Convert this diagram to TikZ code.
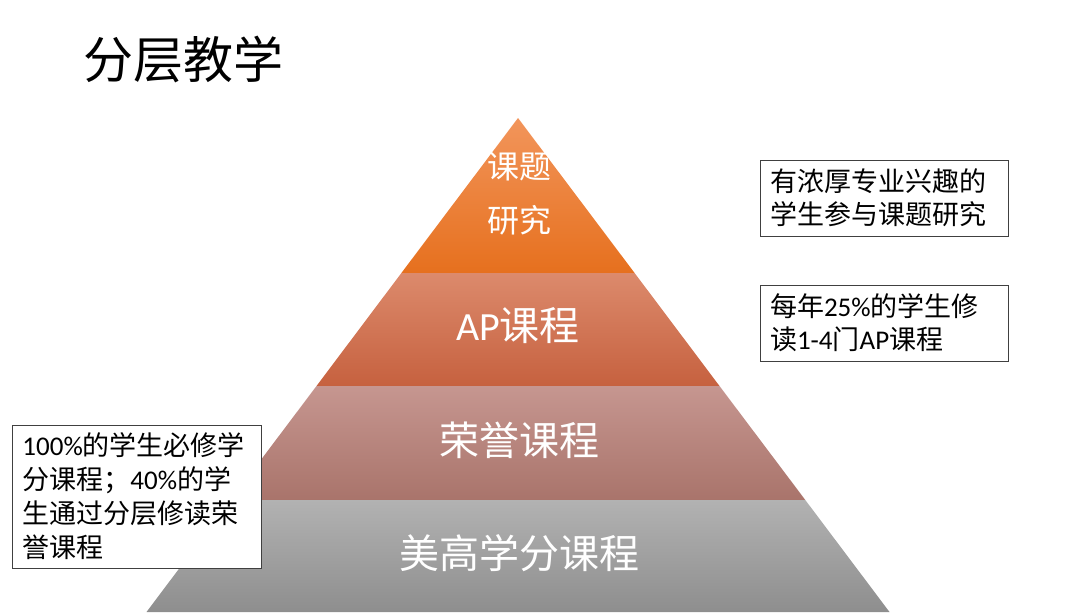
\documentclass[tikz,border=0pt]{standalone}
\usepackage{fontspec}
\setmainfont{Noto Sans CJK SC}
\newfontfamily\lat{Carlito}
\definecolor{oTop}{HTML}{F2955B}
\definecolor{oBot}{HTML}{E6701E}
\definecolor{aTop}{HTML}{DC8A6C}
\definecolor{aBot}{HTML}{C6613F}
\definecolor{hTop}{HTML}{C69690}
\definecolor{hBot}{HTML}{A9746B}
\definecolor{gTop}{HTML}{B2B2B2}
\definecolor{gBot}{HTML}{8E8E8E}
\begin{document}
\begin{tikzpicture}[x=1pt,y=-1pt,
  tierlabel/.style={text=white,inner sep=0pt,align=center},
  infobox/.style={draw=black!75,line width=0.8pt,fill=white,align=left,inner xsep=0pt,inner ysep=0pt,
    text width=228pt,font=\fontsize{27}{33}\selectfont},
]
\useasboundingbox (0,0) rectangle (1080,616);
% pyramid tiers
\shade[top color=oTop,bottom color=oBot] (518,118) -- (634.6,273) -- (401.4,273) -- cycle;
\shade[top color=aTop,bottom color=aBot] (401.4,273) -- (634.6,273) -- (719.5,386) -- (316.5,386) -- cycle;
\shade[top color=hTop,bottom color=hBot] (316.5,386) -- (719.5,386) -- (805.3,500) -- (230.7,500) -- cycle;
\shade[top color=gTop,bottom color=gBot] (230.7,500) -- (805.3,500) -- (889.5,612) -- (146.5,612) -- cycle;
% title
\node[anchor=west,inner sep=0pt,font=\fontsize{50}{60}\selectfont] (title) at (83,59) {分层教学};
% tier labels
\node[tierlabel,font=\fontsize{32}{54}\selectfont] (t1) at (519,194) {课题\\研究};
\node[tierlabel,font=\fontsize{40}{48}\selectfont] (t2) at (518,326) {{\lat AP}课程};
\node[tierlabel,font=\fontsize{40}{48}\selectfont] (t3) at (519,440) {荣誉课程};
\node[tierlabel,font=\fontsize{40}{48}\selectfont] (t4) at (519,553) {美高学分课程};
% info boxes
\node[infobox,minimum width=248pt,minimum height=76pt] (b1) at (884,198) {有浓厚专业兴趣的\\学生参与课题研究};
\node[infobox,minimum width=248pt,minimum height=76pt] (b2) at (884,323) {每年{\lat 25\%}的学生修\\读{\lat 1-4}门{\lat AP}课程};
\node[infobox,font=\fontsize{27}{34}\selectfont,minimum width=249pt,minimum height=143pt] (b3) at (136.5,496.5) {{\lat 100\%}的学生必修学\\分课程；{\lat 40\%}的学\\生通过分层修读荣\\誉课程};
\end{tikzpicture}
\end{document}
